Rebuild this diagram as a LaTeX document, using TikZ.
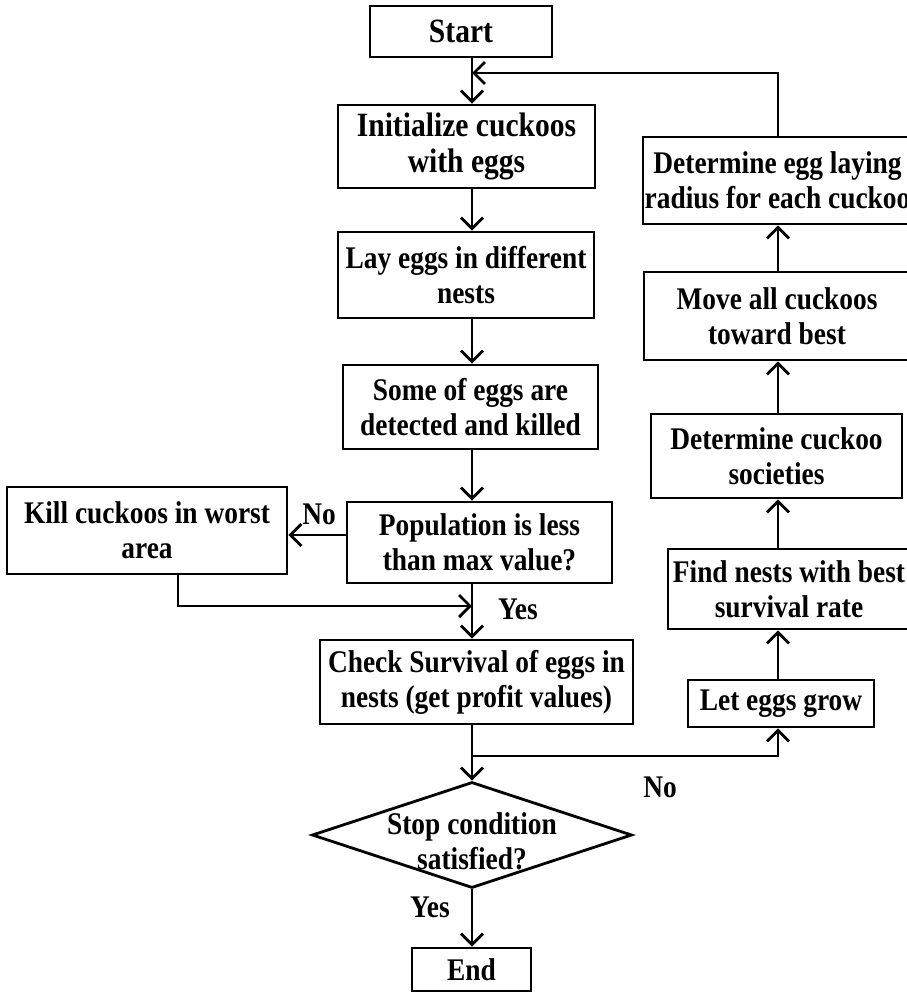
\documentclass[tikz,border=0pt]{standalone}
\usepackage{fontspec}
\setmainfont{Liberation Serif}[FakeStretch=0.87]
\usetikzlibrary{arrows.meta,shapes.geometric,calc}
\begin{document}
\begin{tikzpicture}[x=1pt,y=-1pt,
  box/.style={draw,line width=2.8pt,rectangle,inner sep=0pt,align=center,
    font=\fontsize{31.5}{35}\selectfont\bfseries},
  bigtext/.style={font=\fontsize{34}{36}\selectfont\bfseries},
  arr/.style={line width=2.8pt,-{Straight Barb[length=11pt,width=22pt,line width=2.8pt]}},
  lbl/.style={font=\fontsize{31.5}{35}\selectfont\bfseries,inner sep=0pt}]
\useasboundingbox (0,0) rectangle (907,993);
\clip (0,0) rectangle (907,993);
\coordinate (mainx) at (472,0);
\coordinate (colx) at (778,0);
% main column
\node[box,bigtext,minimum width=182,minimum height=51] (start) at (461,31.5) {Start};
\node[box,bigtext,minimum width=257,minimum height=83] (init) at (466.5,146.5) {Initialize cuckoos\\with eggs};
\node[box,minimum width=256,minimum height=86] (lay) at (466,275) {Lay eggs in different\\nests};
\node[box,minimum width=255,minimum height=84] (some) at (470.5,407) {Some of eggs are\\detected and killed};
\node[box,minimum width=265,minimum height=81] (pop) at (479.5,542.5) {Population is less\\than max value?};
\node[box,minimum width=280,minimum height=87] (kill) at (147,530.5) {Kill cuckoos in worst\\area};
\node[box,minimum width=313,minimum height=84] (check) at (476.5,682) {Check Survival of eggs in\\nests (get profit values)};
\node[draw,line width=2.8pt,shape=diamond,minimum width=320,minimum height=106,inner sep=0pt,
  label={[align=center,font=\fontsize{31.5}{35}\selectfont\bfseries,yshift=-6pt]center:Stop condition\\satisfied?}] (stop) at (472,835) {};
\node[box,minimum width=119,minimum height=43] (end) at (471.5,969.5) {End};
% right column
\node[box,minimum width=186,minimum height=47] (grow) at (781,703.5) {Let eggs grow};
\node[box,minimum width=242,minimum height=80] (find) at (789,589) {Find nests with best\\survival rate};
\node[box,minimum width=251,minimum height=84] (soc) at (776.5,456) {Determine cuckoo\\societies};
\node[box,minimum width=266,minimum height=88] (move) at (777,316) {Move all cuckoos\\toward best};
\node[box,minimum width=269,minimum height=87] (egg) at (777.5,180.5) {Determine egg laying\\radius for each cuckoo};
% helper coordinates
\coordinate (fbr) at (778,73);
\coordinate (fbl) at (472,73);
\coordinate (join) at (472,606);
\coordinate (kbend) at (178,606);
\coordinate (split) at (472,756);
\coordinate (splitr) at (778,756);
\coordinate (popw) at (347,535);
% connectors main
\draw[arr] (start.south -| mainx) -- (init.north -| mainx);
\draw[arr] (init.south -| mainx) -- (lay.north -| mainx);
\draw[arr] (lay.south -| mainx) -- (some.north -| mainx);
\draw[arr] (some.south -| mainx) -- (pop.north -| mainx);
\draw[arr] (pop.west |- popw) -- (kill.east |- popw);
\draw[arr] (kill.south -| kbend) -- (kbend) -- (join);
\draw[arr] (pop.south -| mainx) -- (check.north -| mainx);
\draw[arr] (check.south -| mainx) -- (stop.north);
\draw[arr] (split) -- (splitr) -- (grow.south -| colx);
\draw[arr] (stop.south) -- (end.north -| stop.south);
% connectors right
\draw[arr] (grow.north -| colx) -- (find.south -| colx);
\draw[arr] (find.north -| colx) -- (soc.south -| colx);
\draw[arr] (soc.north -| colx) -- (move.south -| colx);
\draw[arr] (move.north -| colx) -- (egg.south -| colx);
\draw[arr] (egg.north -| colx) -- (fbr) -- (fbl);
% labels
\node[lbl] (lno1) at (319,514) {No};
\node[lbl] (lyes1) at (518,609) {Yes};
\node[lbl] (lno2) at (660,787) {No};
\node[lbl] (lyes2) at (430,907) {Yes};
\end{tikzpicture}
\end{document}
